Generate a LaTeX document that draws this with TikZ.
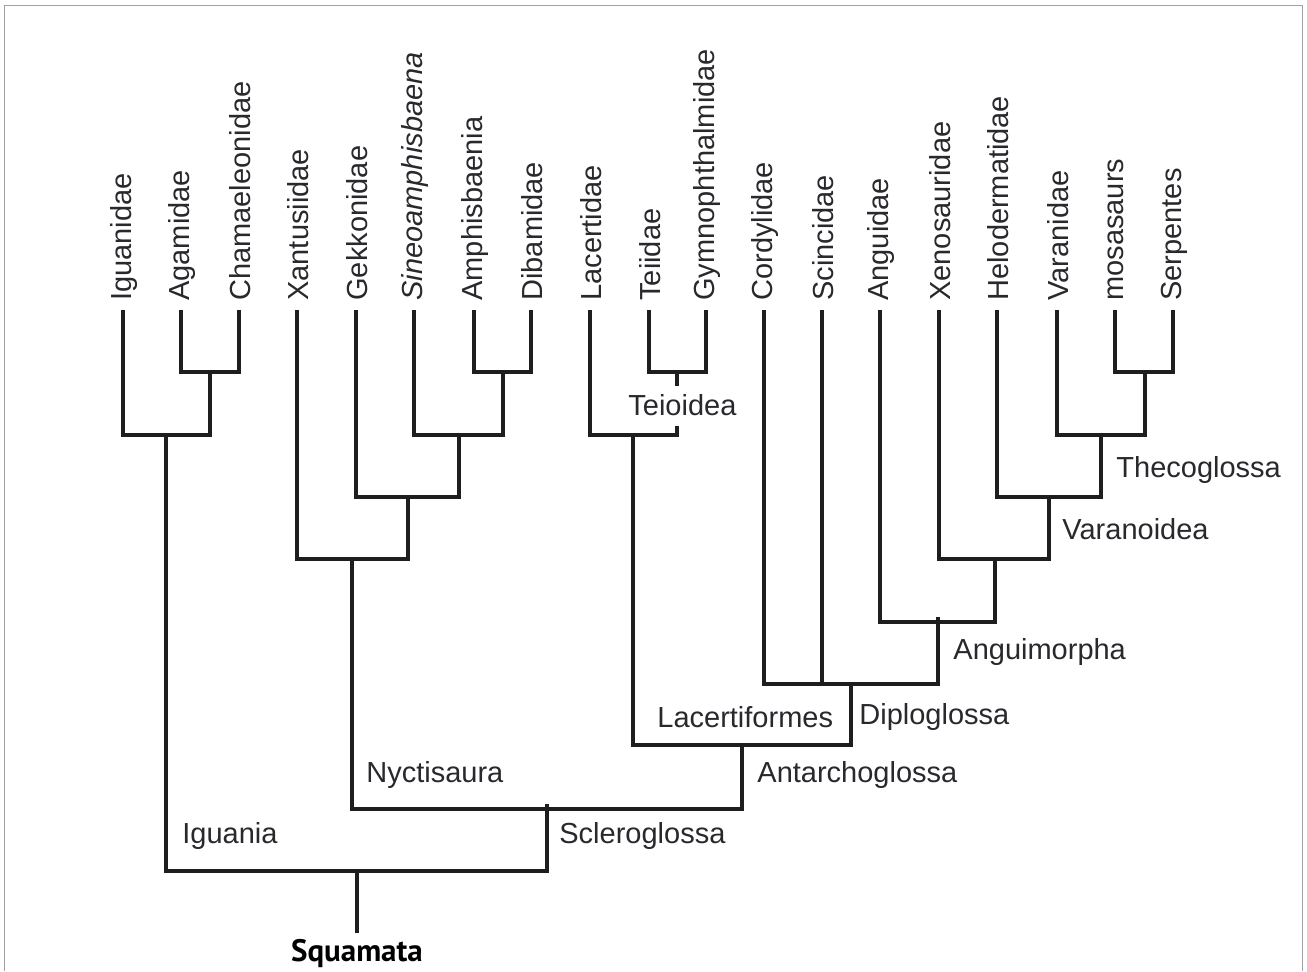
\documentclass[tikz,border=0pt]{standalone}
\usepackage{fontspec}
\setmainfont{Liberation Sans}
\newfontfamily\sqfont{PT Sans}
\usetikzlibrary{calc}
\definecolor{branch}{RGB}{30,30,30}
\definecolor{inktext}{RGB}{40,40,45}
\definecolor{frame}{RGB}{160,160,160}
\tikzset{
  tree/.style={draw=branch,line width=1.7pt,line join=miter},
  taxon/.style={rotate=90,anchor=west,inner sep=0pt,font=\fontsize{14.5}{16}\selectfont,text=inktext},
  clade/.style={anchor=west,inner sep=0pt,font=\fontsize{14.5}{16}\selectfont,text=inktext},
}
\begin{document}
\begin{tikzpicture}[x=0.5pt,y=-0.5pt]
  \useasboundingbox (0,0) rectangle (1307,971);
  \draw[frame,line width=0.5pt] (4.5,971) -- (4.5,5.5) -- (1302.5,5.5) -- (1302.5,971);
  % tips
  \foreach \n/\t/\x in {igu/Iguanidae/123,aga/Agamidae/181,cha/Chamaeleonidae/239,
    xan/Xantusiidae/297,gek/Gekkonidae/356,sin/\textit{Sineoamphisbaena}/414,
    amp/Amphisbaenia/474,dib/Dibamidae/531,lac/Lacertidae/590,tei/Teiidae/649,
    gym/Gymnophthalmidae/706,cor/Cordylidae/764,sci/Scincidae/822,ang/Anguidae/880,
    xen/Xenosauridae/939,hel/Helodermatidae/997,var/Varanidae/1057,mos/mosasaurs/1115,
    ser/Serpentes/1173}
  {
    \node[taxon] (\n-l) at (\x+1,301) {\t};
    \coordinate (\n) at (\x,310);
  }
  % junctions
  \coordinate (agcha) at (210,372);
  \coordinate (iguania) at (166,435);
  \coordinate (ampdib) at (503,372);
  \coordinate (amphis) at (459,435);
  \coordinate (gekamp) at (408,497);
  \coordinate (nyct) at (352,559);
  \coordinate (teio) at (677,372);
  \coordinate (lacert) at (633,435);
  \coordinate (mosser) at (1145,372);
  \coordinate (theco) at (1101,435);
  \coordinate (varano) at (1049,497);
  \coordinate (xenvar) at (995,559);
  \coordinate (angui) at (938,622);
  \coordinate (diplo) at (851,684);
  \coordinate (lacfrm) at (742,745);
  \coordinate (sclero) at (547,809);
  \coordinate (squam) at (357,871);
  \coordinate (root) at (357,933);
  % branches
  \draw[tree] (aga) |- (agcha) -| (cha);
  \draw[tree] (igu) |- (iguania) -| (agcha);
  \draw[tree] (amp) |- (ampdib) -| (dib);
  \draw[tree] (sin) |- (amphis) -| (ampdib);
  \draw[tree] (gek) |- (gekamp) -| (amphis);
  \draw[tree] (xan) |- (nyct) -| (gekamp);
  \draw[tree] (tei) |- (teio) -| (gym);
  \draw[tree] (teio) -- ++(0,14);
  \draw[tree] (lac) |- (lacert) -- (lacert -| teio) -- ++(0,-9);
  \draw[tree] (mos) |- (mosser) -| (ser);
  \draw[tree] (var) |- (theco) -| (mosser);
  \draw[tree] (hel) |- (varano) -| (theco);
  \draw[tree] (xen) |- (xenvar) -| (varano);
  \draw[tree] (ang) |- (angui) -| (xenvar);
  \draw[tree] (cor) |- (diplo) -| (angui);
  \draw[tree] (angui) -- ++(0,-5);
  \draw[tree] (sci) -- (sci |- diplo);
  \draw[tree] (lacert) |- (lacfrm) -| (diplo);
  \draw[tree] (nyct) |- (sclero) -| (lacfrm);
  \draw[tree] (sclero) -- ++(0,-5);
  \draw[tree] (iguania) |- (squam) -| (sclero);
  \draw[tree] (squam) -- (root);
  % clade names
  \node[clade] (teioidea) at (628,405) {Teioidea};
  \node[clade] (thecoglossa) at (1116,470) {Thecoglossa};
  \node[clade] (varanoidea) at (1062,529) {Varanoidea};
  \node[clade] (anguimorpha) at (953,652) {Anguimorpha};
  \node[clade] (diploglossa) at (859,717) {Diploglossa};
  \node[clade] (lacertiformes) at (657,717) {Lacertiformes};
  \node[clade] (antarchoglossa) at (757,775) {Antarchoglossa};
  \node[clade] (nyctisaura) at (366,775) {Nyctisaura};
  \node[clade] (scleroglossa) at (559,836) {Scleroglossa};
  \node[clade] (iguania-l) at (182,836) {Iguania};
  \node[inner sep=0pt,font=\sqfont\bfseries\fontsize{15.5}{17}\selectfont,text=black] (squamata) at (357,954) {Squamata};
\end{tikzpicture}
\end{document}
